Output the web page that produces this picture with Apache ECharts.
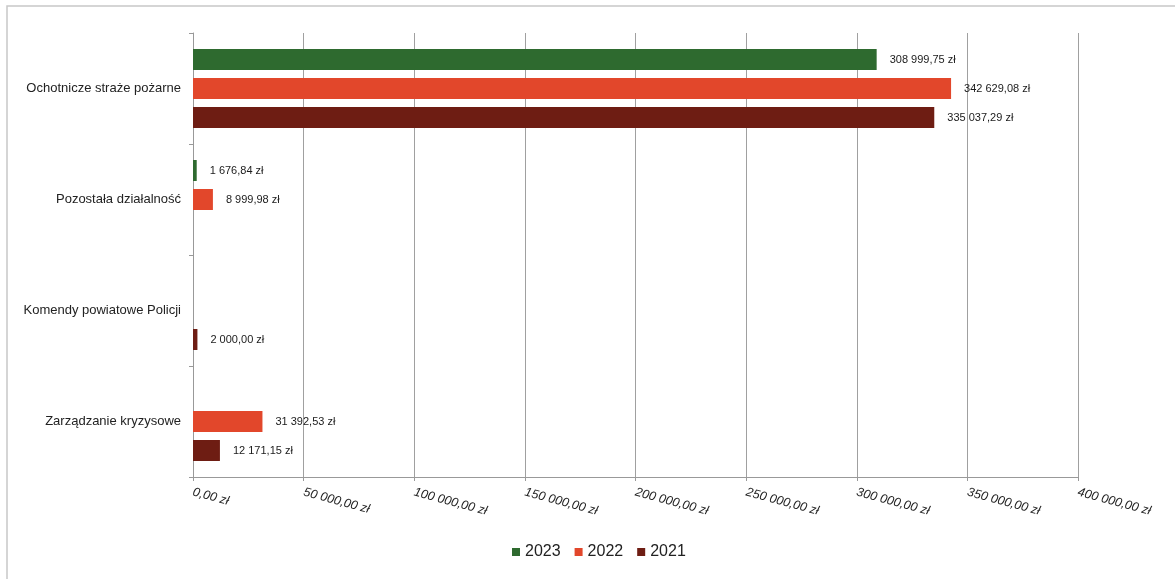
<!DOCTYPE html>
<html>
<head>
<meta charset="utf-8">
<script src="https://cdn.jsdelivr.net/npm/echarts@6/dist/echarts.min.js"></script>
<style>
html,body{margin:0;padding:0;background:#fff;}
#chart{width:1175px;height:579px;}
</style>
</head>
<body>
<div id="chart"></div>
<script>
const categories = ['Ochotnicze straże pożarne', 'Pozostała działalność', 'Komendy powiatowe Policji', 'Zarządzanie kryzysowe'];
const seriesNames = ['2023', '2022', '2021'];
const values2023 = [308999.75, 1676.84, null, null];
const values2022 = [342629.08, 8999.98, null, 31392.53];
const values2021 = [335037.29, null, 2000.00, 12171.15];
const xTicks = [0, 50000, 100000, 150000, 200000, 250000, 300000, 350000, 400000];
const colors = ['#2e6a2f', '#e2472b', '#6e1d13'];

function fmt(v) {
  const s = Number(v).toFixed(2);
  const parts = s.split('.');
  const intPart = parts[0].replace(/\B(?=(\d{3})+(?!\d))/g, ' ');
  return intPart + ',' + parts[1] + ' zł';
}

const chart = echarts.init(document.getElementById('chart'), null, {renderer: 'canvas'});
const dataSets = [values2023, values2022, values2021];
const font = 'Liberation Sans, Arial, sans-serif';

const option = {
  backgroundColor: '#fff',
  animation: false,
  textStyle: {fontFamily: font},
  graphic: [{
    type: 'rect',
    shape: {x: 7, y: 6, width: 1200, height: 600},
    style: {fill: 'none', stroke: '#c8c8c8', lineWidth: 1.5},
    silent: true
  }],
  legend: {
    data: seriesNames,
    bottom: 14,
    left: 507,
    icon: 'rect',
    itemWidth: 8,
    itemHeight: 8,
    itemGap: 14,
    textStyle: {fontSize: 16, color: '#222', fontFamily: font, padding: [0, 0, 0, 0]}
  },
  grid: {left: 193, right: 97, top: 33, bottom: 102, containLabel: false},
  xAxis: {
    type: 'value',
    min: 0,
    max: 400000,
    interval: 50000,
    axisLine: {show: true, lineStyle: {color: '#999', width: 1}},
    axisTick: {show: true, length: 4, lineStyle: {color: '#999'}},
    splitLine: {show: true, lineStyle: {color: '#a0a0a0', width: 1}},
    axisLabel: {
      rotate: -15,
      fontSize: 12.5,
      color: '#222',
      fontStyle: 'italic',
      margin: 15,
      formatter: function (v) { return xTicks.indexOf(v) >= 0 ? fmt(v) : ''; }
    }
  },
  yAxis: {
    type: 'category',
    data: categories,
    inverse: true,
    axisLine: {show: true, lineStyle: {color: '#999', width: 1}},
    axisTick: {show: true, length: 4, lineStyle: {color: '#999'}},
    axisLabel: {fontSize: 13, color: '#222', margin: 12}
  },
  series: seriesNames.map(function (name, i) {
    return {
      name: name,
      type: 'bar',
      data: dataSets[i],
      barWidth: 21,
      barGap: '38%',
      itemStyle: {color: colors[i]},
      label: {
        show: true,
        position: 'right',
        distance: 13,
        fontSize: 11,
        color: '#1a1a1a',
        fontFamily: font,
        formatter: function (p) { return p.value == null ? '' : fmt(p.value); }
      }
    };
  })
};
chart.setOption(option);
</script>
</body>
</html>
